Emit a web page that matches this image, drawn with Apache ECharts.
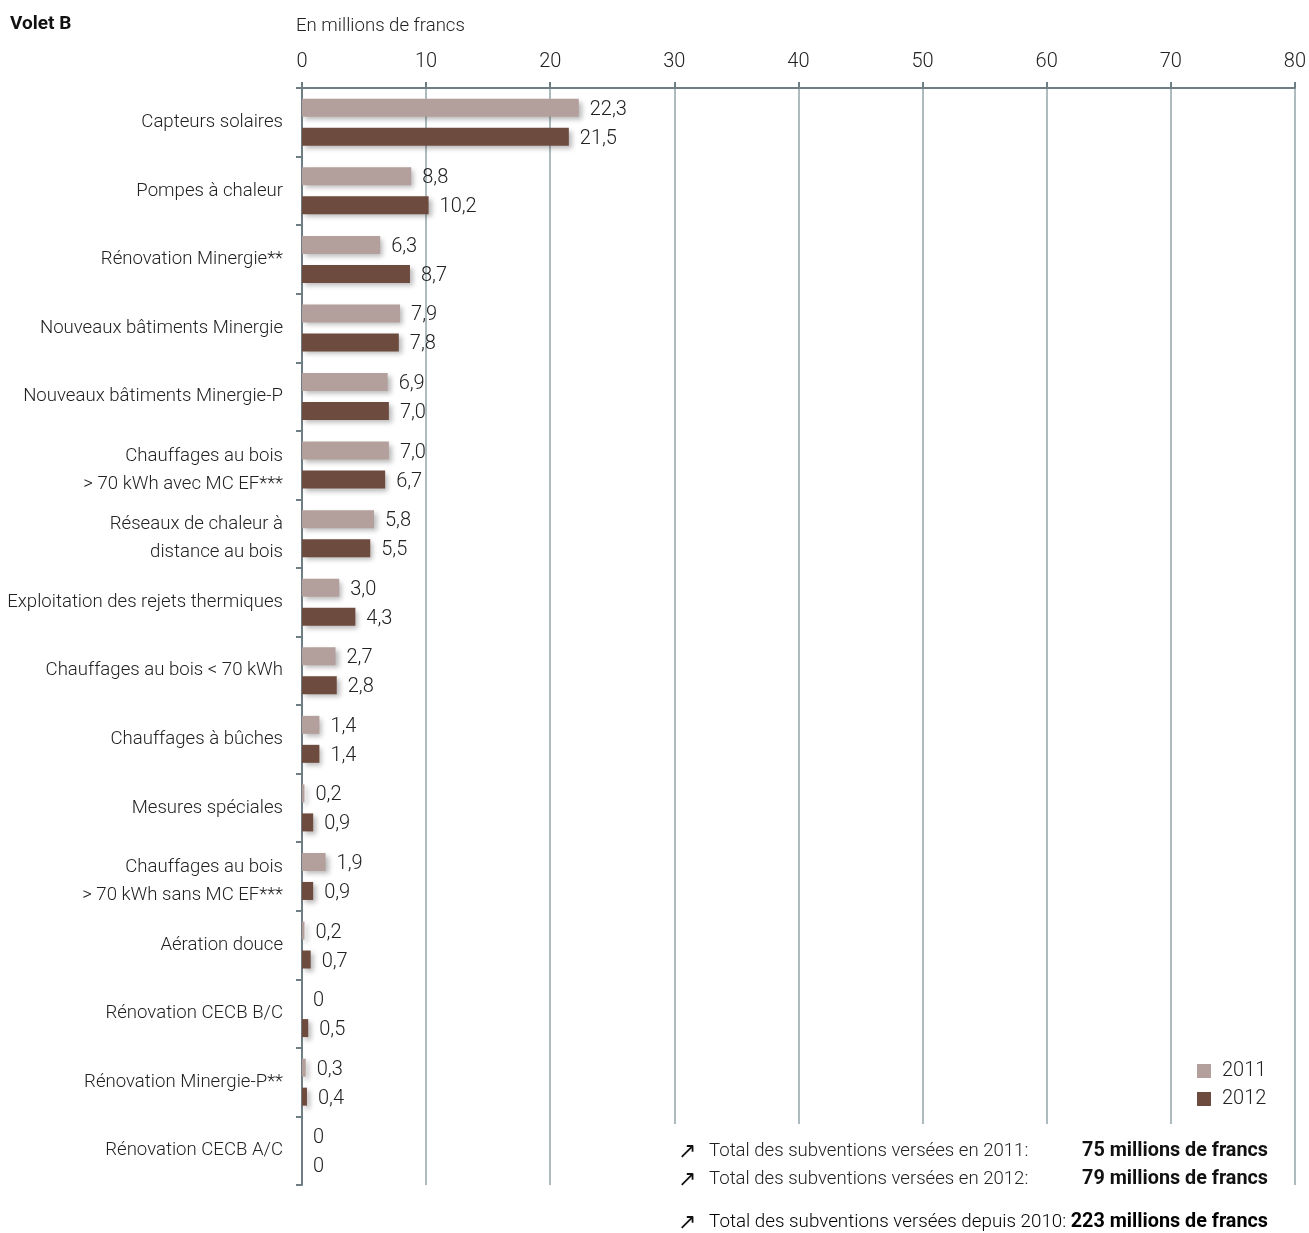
<!DOCTYPE html>
<html>
<head>
<meta charset="utf-8">
<title>Volet B</title>
<script src="https://cdn.jsdelivr.net/npm/echarts@6/dist/echarts.min.js"></script>
<style>
  html, body { margin: 0; padding: 0; background: #fff; }
  #chart { width: 1309px; height: 1233px; }
</style>
</head>
<body>
<div id="chart"></div>
<script>
// Subsidies per measure (millions of francs)
const categories = [
  'Capteurs solaires',
  'Pompes à chaleur',
  'Rénovation Minergie**',
  'Nouveaux bâtiments Minergie',
  'Nouveaux bâtiments Minergie-P',
  'Chauffages au bois\n> 70 kWh avec MC EF***',
  'Réseaux de chaleur à\ndistance au bois',
  'Exploitation des rejets thermiques',
  'Chauffages au bois < 70 kWh',
  'Chauffages à bûches',
  'Mesures spéciales',
  'Chauffages au bois\n> 70 kWh sans MC EF***',
  'Aération douce',
  'Rénovation CECB B/C',
  'Rénovation Minergie-P**',
  'Rénovation CECB A/C'
];
const values2011 = [22.3, 8.8, 6.3, 7.9, 6.9, 7.0, 5.8, 3.0, 2.7, 1.4, 0.2, 1.9, 0.2, 0, 0.3, 0];
const values2012 = [21.5, 10.2, 8.7, 7.8, 7.0, 6.7, 5.5, 4.3, 2.8, 1.4, 0.9, 0.9, 0.7, 0.5, 0.4, 0];
const xTicks = [0, 10, 20, 30, 40, 50, 60, 70, 80];

const FONT = 'Roboto, "Noto Sans", sans-serif';
const TEXT = '#222';
const C2011 = '#b39f9c';
const C2012 = '#6e4b3f';

const fmt = v => v === 0 ? '0' : v.toFixed(1).replace('.', ',');

// two-line category names get a small spacer line so they sit a little lower in their band
const categoryLabel = name => {
  const lines = name.split('\n');
  if (lines.length === 1) return '{t|' + name + '}';
  return '{s| }\n' + lines.map(l => '{t|' + l + '}').join('\n');
};

const barStyle = color => ({
  color: color,
  shadowColor: 'rgba(0,0,0,0.28)',
  shadowBlur: 5,
  shadowOffsetX: 3,
  shadowOffsetY: 3
});

const labelStyle = {
  show: true,
  position: 'right',
  distance: 11,
  offset: [0, 2],
  formatter: p => fmt(p.value),
  fontFamily: FONT,
  fontWeight: 300,
  fontSize: 20,
  color: TEXT
};

const chart = echarts.init(document.getElementById('chart'));

chart.setOption({
  animation: false,
  backgroundColor: '#fff',
  textStyle: { fontFamily: FONT },
  grid: { left: 302, right: 14, top: 88, bottom: 48, containLabel: false },
  xAxis: {
    type: 'value',
    position: 'top',
    min: xTicks[0],
    max: xTicks[xTicks.length - 1],
    interval: 10,
    axisLine: { show: true, lineStyle: { color: '#6e7e84', width: 2 } },
    axisTick: { show: true, length: 6, lineStyle: { color: '#6e7e84', width: 2 } },
    axisLabel: {
      margin: 16,
      fontFamily: FONT,
      fontWeight: 300,
      fontSize: 20,
      color: TEXT
    },
    splitLine: { show: true, lineStyle: { color: '#adbbbe', width: 2 } }
  },
  yAxis: {
    type: 'category',
    inverse: true,
    data: categories,
    axisLine: { show: true, lineStyle: { color: '#6e7e84', width: 2 } },
    axisTick: { show: true, length: 6, lineStyle: { color: '#6e7e84', width: 2 } },
    axisLabel: {
      margin: 19,
      color: TEXT,
      formatter: categoryLabel,
      rich: {
        t: { fontFamily: FONT, fontWeight: 300, fontSize: 18.6, lineHeight: 28, color: TEXT, align: 'right' },
        s: { fontSize: 1, lineHeight: 10 }
      }
    },
    splitLine: { show: false }
  },
  legend: {
    orient: 'vertical',
    left: 1192,
    top: 1056,
    icon: 'rect',
    itemWidth: 14,
    itemHeight: 14,
    itemGap: 8,
    textStyle: { fontFamily: FONT, fontWeight: 300, fontSize: 20, color: TEXT, padding: [0, 0, 0, 6] },
    data: ['2011', '2012']
  },
  series: [
    {
      name: '2011',
      type: 'bar',
      data: values2011,
      barWidth: 18,
      barGap: '61%',
      itemStyle: barStyle(C2011),
      label: labelStyle
    },
    {
      name: '2012',
      type: 'bar',
      data: values2012,
      barWidth: 18,
      barGap: '61%',
      itemStyle: barStyle(C2012),
      label: labelStyle
    }
  ],
  graphic: [
    {
      type: 'text', left: 10, top: 15, z: 20,
      style: { text: 'Volet B', font: 'bold 19px ' + FONT, fill: '#111' }
    },
    {
      type: 'text', left: 296, top: 17, z: 20,
      style: { text: 'En millions de francs', font: '300 18.6px ' + FONT, fill: TEXT }
    },
    // white panel behind the totals, cutting the grid lines
    {
      type: 'rect', z: 15,
      shape: { x: 664, y: 1124, width: 626, height: 109 },
      style: { fill: '#fff' }
    },
    {
      type: 'text', x: 678, y: 1152, z: 20,
      style: { text: '↗', font: '300 22px ' + FONT, fill: '#111', verticalAlign: 'middle' }
    },
    {
      type: 'text', x: 709, y: 1151, z: 20,
      style: { text: 'Total des subventions versées en 2011:', font: '300 18.6px ' + FONT, fill: TEXT, verticalAlign: 'middle' }
    },
    {
      type: 'text', x: 1268, y: 1151, z: 20,
      style: { text: '75 millions de francs', font: 'bold 19.8px ' + FONT, fill: '#111', align: 'right', verticalAlign: 'middle' }
    },
    {
      type: 'text', x: 678, y: 1180, z: 20,
      style: { text: '↗', font: '300 22px ' + FONT, fill: '#111', verticalAlign: 'middle' }
    },
    {
      type: 'text', x: 709, y: 1179, z: 20,
      style: { text: 'Total des subventions versées en 2012:', font: '300 18.6px ' + FONT, fill: TEXT, verticalAlign: 'middle' }
    },
    {
      type: 'text', x: 1268, y: 1179, z: 20,
      style: { text: '79 millions de francs', font: 'bold 19.8px ' + FONT, fill: '#111', align: 'right', verticalAlign: 'middle' }
    },
    {
      type: 'text', x: 678, y: 1223, z: 20,
      style: { text: '↗', font: '300 22px ' + FONT, fill: '#111', verticalAlign: 'middle' }
    },
    {
      type: 'text', x: 1268, y: 1222, z: 20,
      style: {
        text: '{n|Total des subventions versées depuis 2010: }{b|223 millions de francs}',
        align: 'right',
        verticalAlign: 'middle',
        rich: {
          n: { fontFamily: FONT, fontWeight: 300, fontSize: 18.8, color: TEXT },
          b: { fontFamily: FONT, fontWeight: 'bold', fontSize: 19.8, color: '#111' }
        }
      }
    }
  ]
});
</script>
</body>
</html>
